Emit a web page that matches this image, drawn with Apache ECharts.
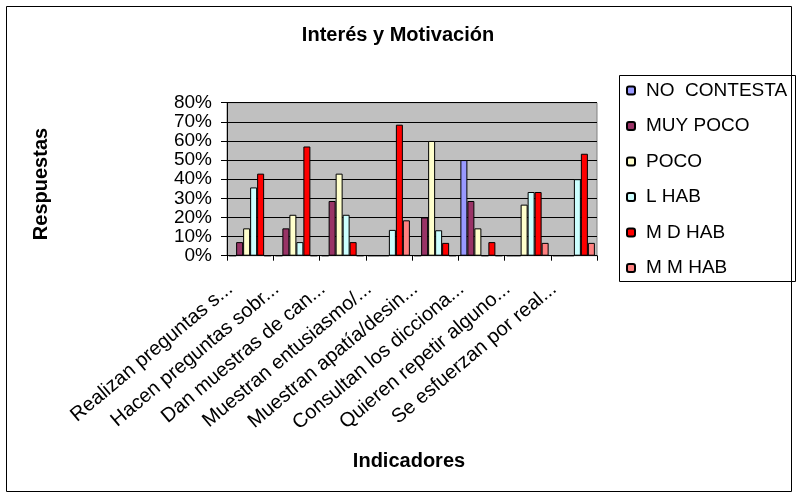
<!DOCTYPE html>
<html>
<head>
<meta charset="utf-8">
<script src="https://cdn.jsdelivr.net/npm/echarts@6/dist/echarts.min.js"></script>
<style>html,body{margin:0;padding:0;background:#fff}#c{width:796px;height:497px}</style>
</head>
<body>
<div id="c"></div>
<script>
const categories = ["Realizan preguntas s...", "Hacen preguntas sobr...", "Dan muestras de can...", "Muestran entusiasmo/...", "Muestran apatía/desin...", "Consultan los dicciona...", "Quieren repetir alguno...", "Se esfuerzan por real..."];
const seriesNames = ["NO  CONTESTA", "MUY POCO", "POCO", "L HAB", "M D HAB", "M M HAB"];
const noContesta = [0, 0, 0, 0, 0, 50, 0, 0];
const muyPoco = [7.1, 14.3, 28.6, 0, 20, 28.6, 0, 0];
const poco = [14.3, 21.4, 42.9, 0, 60, 14.3, 26.7, 0];
const lHab = [35.7, 7.1, 21.4, 13.5, 13.3, 0, 33.3, 40];
const mdHab = [42.9, 57.1, 7.1, 68.5, 6.7, 7.1, 33.3, 53.3];
const mmHab = [0, 0, 0, 18.5, 0, 0, 6.7, 6.7];
const colors = ["#9999FF", "#993366", "#FFFFCC", "#CCFFFF", "#FF0000", "#FF8080"];
const allData = [noContesta, muyPoco, poco, lHab, mdHab, mmHab];

const FONT = "Liberation Sans, Arial, sans-serif";
const chart = echarts.init(document.getElementById('c'), null, {renderer: 'canvas'});
chart.setOption({
  animation: false,
  backgroundColor: '#fff',
  textStyle: {fontFamily: FONT, color: '#000'},
  legend: {
    orient: 'vertical', left: 626, top: 81, padding: 0,
    itemWidth: 8, itemHeight: 8, itemGap: 16.5,
    data: seriesNames,
    textStyle: {fontFamily: FONT, fontSize: 19, color: '#000', lineHeight: 16, padding: [0, 0, 0, 6]}
  },
  grid: {
    left: 227, right: 199, top: 102.7, bottom: 241.3,
    show: true, backgroundColor: '#C0C0C0', borderColor: '#808080', borderWidth: 1
  },
  xAxis: {
    type: 'category', data: categories, boundaryGap: true,
    axisLine: {lineStyle: {color: '#000', width: 1}},
    axisTick: {show: true, length: 5, lineStyle: {color: '#000'}},
    axisLabel: {
      interval: 0, rotate: 40, margin: 14, fontFamily: FONT, fontSize: 20, color: '#000',
      padding: [0, 26, 0, 0]
    }
  },
  yAxis: {
    type: 'value', min: 0, max: 80, interval: 10,
    axisLine: {show: true, lineStyle: {color: '#000'}},
    axisTick: {show: true, length: 6, lineStyle: {color: '#000'}},
    splitLine: {show: true, lineStyle: {color: '#000', width: 1}},
    axisLabel: {formatter: '{value}%', margin: 15, fontFamily: FONT, fontSize: 19, color: '#000'}
  },
  series: seriesNames.map((n, i) => ({
    name: n, type: 'bar', data: allData[i],
    barGap: '0%', barWidth: 7,
    itemStyle: {color: colors[i], borderColor: '#000', borderWidth: 1}
  })),
  graphic: [
    {type: 'rect', shape: {x: 6.5, y: 6.5, width: 785, height: 485}, style: {fill: 'none', stroke: '#000', lineWidth: 1}, silent: true, z: -1},
    {type: 'rect', shape: {x: 619.5, y: 75.5, width: 176, height: 206}, style: {fill: 'none', stroke: '#000', lineWidth: 1}, silent: true},
    {type: 'text', x: 398, y: 35, style: {text: 'Interés y Motivación', x: 0, y: 0, textAlign: 'center', textVerticalAlign: 'middle', font: 'bold 20px ' + FONT, fill: '#000'}},
    {type: 'text', x: 409, y: 461, style: {text: 'Indicadores', x: 0, y: 0, textAlign: 'center', textVerticalAlign: 'middle', font: 'bold 20px ' + FONT, fill: '#000'}},
    {type: 'text', rotation: Math.PI / 2, x: 41, y: 184, style: {text: 'Respuestas', x: 0, y: 0, textAlign: 'center', textVerticalAlign: 'middle', font: 'bold 20px ' + FONT, fill: '#000'}}
  ]
});
</script>
</body>
</html>
